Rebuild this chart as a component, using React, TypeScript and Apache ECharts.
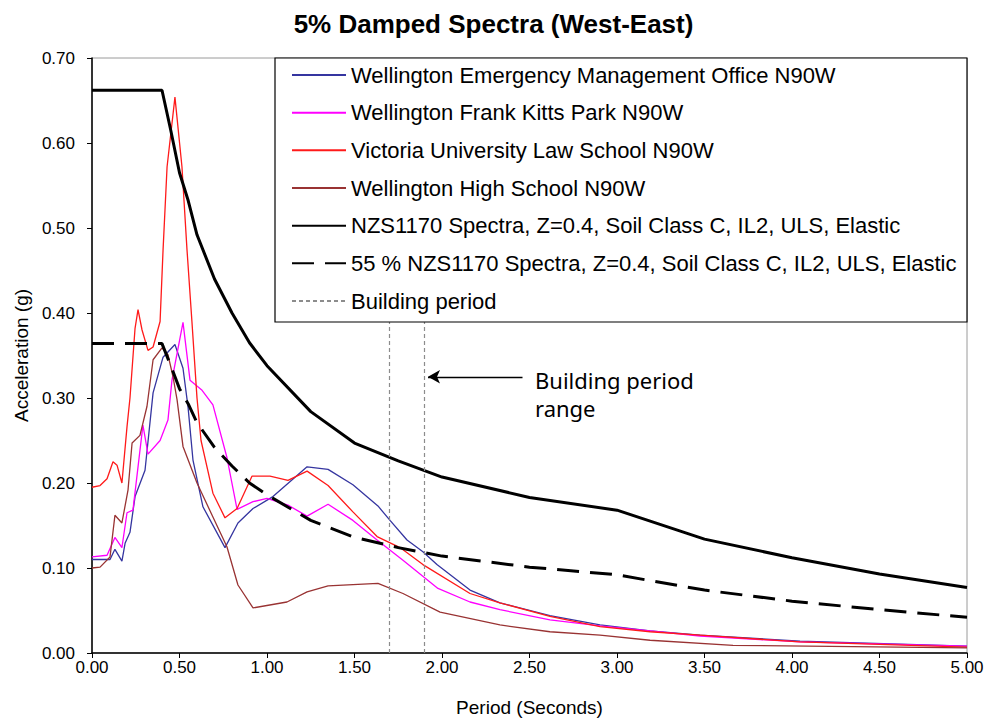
import React, { useEffect, useRef } from 'react';
import * as echarts from 'echarts';

const FONT = '"Liberation Sans", Arial, sans-serif';

// Wellington Emergency Management Office N90W
const emoPeriods = [0, 0.103, 0.131, 0.171, 0.189, 0.217, 0.246, 0.303, 0.349, 0.406, 0.474, 0.52, 0.549, 0.577, 0.634, 0.76, 0.834, 0.92, 1.034, 1.229, 1.349, 1.491, 1.634, 1.703, 1.8, 1.891, 1.971, 2.16, 2.331, 2.617, 2.903, 3.189, 3.474, 4.046, 5.0];
const emoAccel = [0.11, 0.11, 0.122, 0.108, 0.129, 0.142, 0.184, 0.215, 0.306, 0.348, 0.363, 0.335, 0.289, 0.227, 0.172, 0.124, 0.153, 0.17, 0.184, 0.219, 0.216, 0.198, 0.173, 0.156, 0.133, 0.119, 0.104, 0.074, 0.059, 0.044, 0.033, 0.026, 0.021, 0.014, 0.008];

// Wellington Frank Kitts Park N90W
const fkpPeriods = [0, 0.086, 0.131, 0.171, 0.2, 0.234, 0.291, 0.32, 0.389, 0.434, 0.457, 0.52, 0.56, 0.629, 0.691, 0.771, 0.829, 0.92, 1.0, 1.12, 1.229, 1.349, 1.491, 1.629, 1.777, 1.977, 2.16, 2.331, 2.617, 2.903, 3.189, 3.474, 4.046, 5.0];
const fkpAccel = [0.113, 0.115, 0.136, 0.124, 0.165, 0.168, 0.268, 0.234, 0.25, 0.274, 0.321, 0.389, 0.321, 0.309, 0.292, 0.23, 0.169, 0.178, 0.182, 0.174, 0.161, 0.175, 0.156, 0.133, 0.109, 0.076, 0.06, 0.051, 0.039, 0.032, 0.026, 0.02, 0.013, 0.008];

// Victoria University Law School N90W
const vuwPeriods = [0, 0.046, 0.086, 0.12, 0.143, 0.171, 0.2, 0.217, 0.246, 0.263, 0.286, 0.32, 0.349, 0.389, 0.406, 0.429, 0.474, 0.514, 0.543, 0.571, 0.6, 0.623, 0.691, 0.76, 0.829, 0.914, 1.017, 1.12, 1.229, 1.349, 1.491, 1.629, 1.76, 1.891, 2.16, 2.331, 2.617, 2.903, 3.189, 3.474, 4.046, 5.0];
const vuwAccel = [0.195, 0.197, 0.205, 0.225, 0.221, 0.2, 0.266, 0.3, 0.382, 0.404, 0.38, 0.356, 0.36, 0.39, 0.474, 0.572, 0.654, 0.572, 0.474, 0.39, 0.3, 0.25, 0.188, 0.159, 0.17, 0.208, 0.208, 0.203, 0.214, 0.197, 0.166, 0.137, 0.124, 0.104, 0.07, 0.059, 0.043, 0.031, 0.025, 0.021, 0.013, 0.007];

// Wellington High School N90W
const whsPeriods = [0, 0.046, 0.103, 0.131, 0.171, 0.206, 0.229, 0.274, 0.314, 0.349, 0.4, 0.434, 0.463, 0.486, 0.52, 0.6, 0.691, 0.771, 0.834, 0.92, 1.114, 1.229, 1.349, 1.634, 1.777, 1.989, 2.331, 2.617, 2.903, 3.189, 3.663, 5.0];
const whsAccel = [0.1, 0.101, 0.113, 0.162, 0.153, 0.192, 0.247, 0.256, 0.29, 0.345, 0.359, 0.351, 0.325, 0.298, 0.243, 0.2, 0.16, 0.125, 0.08, 0.053, 0.06, 0.072, 0.079, 0.082, 0.07, 0.048, 0.033, 0.025, 0.021, 0.015, 0.009, 0.006];

// NZS1170 design spectra
const nzsPeriods = [0, 0.4, 0.45, 0.5, 0.55, 0.6, 0.7, 0.8, 0.9, 1.0, 1.25, 1.5, 1.75, 2.0, 2.5, 3.0, 3.5, 4.0, 4.5, 5.0];
const nzsAccel = [0.662, 0.662, 0.615, 0.565, 0.532, 0.492, 0.44, 0.4, 0.365, 0.338, 0.284, 0.247, 0.226, 0.207, 0.183, 0.168, 0.134, 0.112, 0.093, 0.077];
const nzs55Accel = [0.364, 0.364, 0.338, 0.311, 0.293, 0.271, 0.242, 0.22, 0.2, 0.186, 0.156, 0.136, 0.124, 0.114, 0.101, 0.092, 0.074, 0.061, 0.051, 0.042];

// Building period range (s)
const buildingPeriods = [1.7, 1.9];
const arrowFrom = [2.46, 0.325];
const arrowTo = [1.92, 0.325];
const noteLines = ['Building period', 'range'];

const yTicks = { min: 0, max: 0.7, interval: 0.1 };
const xTicks = { min: 0, max: 5, interval: 0.5 };

const names = [
  'Wellington Emergency Management Office N90W',
  'Wellington Frank Kitts Park N90W',
  'Victoria University Law School N90W',
  'Wellington High School N90W',
  'NZS1170 Spectra, Z=0.4, Soil Class C, IL2, ULS, Elastic',
  '55 % NZS1170 Spectra, Z=0.4, Soil Class C, IL2, ULS, Elastic',
  'Building period',
];

const pairs = (p: number[], a: number[]) => p.map((t, i) => [t, a[i]]);

export default function App() {
  const ref = useRef<HTMLDivElement>(null);
  useEffect(() => {
    const chart = echarts.init(ref.current!, null, { renderer: 'svg' });
    const thin = (color: string) => ({ color, width: 1.3 });
    chart.setOption({
      animation: false,
      backgroundColor: '#fff',
      title: {
        text: '5% Damped Spectra (West-East)',
        left: 'center',
        top: 6,
        textStyle: { fontFamily: FONT, fontSize: 26, fontWeight: 'bold', color: '#000' },
      },
      grid: {
        left: 92, right: 20, top: 58, bottom: 69,
        outerBoundsMode: 'none',
        containLabel: false,
        show: true, borderColor: '#9a9a9a', borderWidth: 1,
      },
      xAxis: {
        type: 'value',
        ...xTicks,
        name: 'Period (Seconds)',
        nameLocation: 'middle',
        nameGap: 45,
        nameTextStyle: { fontFamily: FONT, fontSize: 19, color: '#000' },
        axisLine: { show: true, onZero: false, lineStyle: { color: '#000', width: 1.5 } },
        axisTick: { show: true, inside: false, length: 5, lineStyle: { color: '#000' } },
        axisLabel: { formatter: (v: number) => v.toFixed(2), fontFamily: FONT, fontSize: 17, color: '#000', margin: 6 },
        splitLine: { show: false },
      },
      yAxis: {
        type: 'value',
        ...yTicks,
        name: 'Acceleration (g)',
        nameLocation: 'middle',
        nameGap: 61,
        nameTextStyle: { fontFamily: FONT, fontSize: 19, color: '#000' },
        axisLine: { show: true, lineStyle: { color: '#000', width: 1.5 } },
        axisTick: { show: true, inside: false, length: 5, lineStyle: { color: '#000' } },
        axisLabel: { formatter: (v: number) => v.toFixed(2), fontFamily: FONT, fontSize: 17, color: '#000', margin: 17 },
        splitLine: { show: false },
      },
      legend: {
        data: names,
        orient: 'vertical',
        left: 291,
        top: 64,
        padding: 0,
        itemWidth: 54,
        itemHeight: 20,
        itemGap: 15.67,
        selectedMode: false,
        z: 8,
        itemStyle: { opacity: 0 },
        textStyle: { fontFamily: FONT, fontSize: 22, color: '#000', lineHeight: 22 },
      },
      graphic: [
        {
          type: 'rect',
          z: 7,
          shape: { x: 275, y: 58, width: 692, height: 264 },
          style: { fill: '#fff', stroke: '#000', lineWidth: 1.2 },
        },
        ...noteLines.map((t, i) => ({
          type: 'text',
          z: 7,
          left: 535,
          top: 369 + i * 28,
          style: {
            text: t,
            font: '22px "Noto Sans", "Open Sans", sans-serif',
            fill: '#000',
          },
        })),
      ],
      series: [
        { name: names[0], type: 'line', symbol: 'none', lineStyle: thin('#3535a0'), itemStyle: { color: '#3535a0' }, data: pairs(emoPeriods, emoAccel), z: 3 },
        { name: names[1], type: 'line', symbol: 'none', lineStyle: thin('#ff00ff'), itemStyle: { color: '#ff00ff' }, data: pairs(fkpPeriods, fkpAccel), z: 3 },
        { name: names[2], type: 'line', symbol: 'none', lineStyle: thin('#ff1a1a'), itemStyle: { color: '#ff1a1a' }, data: pairs(vuwPeriods, vuwAccel), z: 3 },
        { name: names[3], type: 'line', symbol: 'none', lineStyle: thin('#993333'), itemStyle: { color: '#993333' }, data: pairs(whsPeriods, whsAccel), z: 3 },
        { name: names[4], type: 'line', symbol: 'none', lineStyle: { color: '#000', width: 3 }, itemStyle: { color: '#000' }, data: pairs(nzsPeriods, nzsAccel), z: 4 },
        { name: names[5], type: 'line', symbol: 'none', lineStyle: { color: '#000', width: 3, type: [22, 11] }, itemStyle: { color: '#000' }, data: pairs(nzsPeriods, nzs55Accel), z: 4 },
        {
          name: names[6],
          type: 'line',
          symbol: 'none',
          lineStyle: { color: '#8c8c8c', width: 1.2, type: [4, 3] },
          itemStyle: { color: '#8c8c8c' },
          data: [],
          z: 2,
          markLine: {
            silent: true,
            symbol: 'none',
            label: { show: false },
            lineStyle: { color: '#8c8c8c', width: 1.2, type: [4, 3] },
            data: buildingPeriods.map((p) => ({ xAxis: p })),
          },
        },
        {
          name: 'arrow',
          type: 'line',
          symbol: 'none',
          data: [],
          z: 6,
          markLine: {
            silent: true,
            symbol: ['none', 'arrow'],
            symbolSize: [10, 12],
            label: { show: false },
            lineStyle: { color: '#000', width: 1.3, type: 'solid' },
            data: [[{ coord: arrowFrom }, { coord: arrowTo }]],
          },
        },
      ],
    });
    return () => chart.dispose();
  }, []);
  return <div ref={ref} style={{ position: 'fixed', left: 0, top: 0, width: 987, height: 722 }} />;
}
